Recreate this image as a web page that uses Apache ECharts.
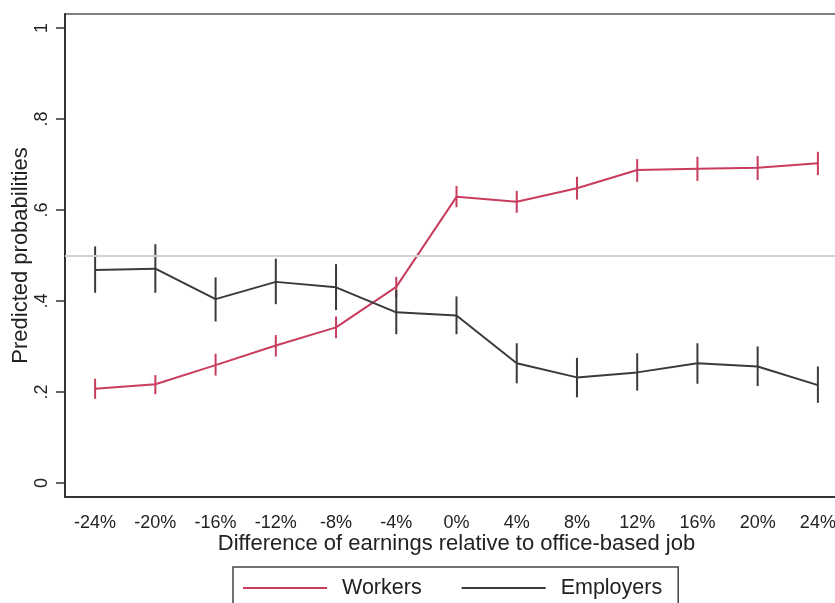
<!DOCTYPE html>
<html>
<head>
<meta charset="utf-8">
<script src="https://cdn.jsdelivr.net/npm/echarts@6/dist/echarts.min.js"></script>
<style>
  html, body { margin: 0; padding: 0; background: #fff; }
  #box { width: 835px; height: 603px; }
</style>
</head>
<body>
<div id="box"></div>
<script>
// 数据
var categories = ['-24%', '-20%', '-16%', '-12%', '-8%', '-4%', '0%', '4%', '8%', '12%', '16%', '20%', '24%'];
var workers   = [0.207, 0.217, 0.259, 0.302, 0.342, 0.431, 0.629, 0.618, 0.648, 0.688, 0.691, 0.693, 0.703];
var workersLo = [0.185, 0.195, 0.236, 0.278, 0.318, 0.409, 0.606, 0.594, 0.623, 0.662, 0.664, 0.666, 0.677];
var workersHi = [0.229, 0.237, 0.284, 0.325, 0.366, 0.453, 0.653, 0.642, 0.673, 0.712, 0.717, 0.719, 0.728];
var employers   = [0.468, 0.471, 0.404, 0.442, 0.430, 0.375, 0.368, 0.263, 0.232, 0.243, 0.263, 0.256, 0.215];
var employersLo = [0.418, 0.418, 0.355, 0.393, 0.380, 0.327, 0.327, 0.219, 0.188, 0.203, 0.218, 0.213, 0.176];
var employersHi = [0.520, 0.525, 0.452, 0.493, 0.481, 0.424, 0.410, 0.307, 0.275, 0.285, 0.307, 0.300, 0.256];
var yTicks = [0, 0.2, 0.4, 0.6, 0.8, 1];

var RED = '#c93c5d';
var DARK = '#3a3a3a';
var FONT = 'Liberation Sans, Arial, sans-serif';

function ciData(lo, hi) {
  return lo.map(function (v, i) { return [i, v, hi[i]]; });
}

// 误差线
function spike(color) {
  return function (params, api) {
    var a = api.coord([api.value(0), api.value(1)]);
    var b = api.coord([api.value(0), api.value(2)]);
    return {
      type: 'line',
      shape: { x1: a[0], y1: a[1], x2: b[0], y2: b[1] },
      style: { stroke: color, lineWidth: 2 }
    };
  };
}

var myChart = echarts.init(document.getElementById('box'));

var option = {
  animation: false,
  textStyle: { fontFamily: FONT },
  grid: {
    left: 65, top: 14, width: 783, height: 483,
    outerBoundsMode: 'none',
    containLabel: false,
    show: true, borderColor: '#555', borderWidth: 1.5
  },
  legend: {
    data: ['Workers', 'Employers'],
    left: 233, top: 567,
    orient: 'horizontal',
    icon: 'rect',
    itemWidth: 84, itemHeight: 2,
    itemGap: 40,
    padding: [10, 16, 30, 10],
    borderColor: '#444', borderWidth: 1.5,
    textStyle: { fontSize: 21.5, color: '#222', fontFamily: FONT, padding: [0, 0, 0, 10] }
  },
  xAxis: {
    type: 'category',
    data: categories,
    boundaryGap: true,
    name: 'Difference of earnings relative to office-based job',
    nameLocation: 'middle',
    nameGap: 36,
    nameMoveOverlap: false,
    nameTextStyle: { fontSize: 22, color: '#222', fontFamily: FONT },
    axisLine: { onZero: false, lineStyle: { color: '#333', width: 2 } },
    axisTick: { alignWithLabel: true, length: 10, lineStyle: { color: '#333', width: 1.5 } },
    axisLabel: { fontSize: 18, color: '#222', margin: 17, interval: 0, fontFamily: FONT },
    splitLine: { show: false }
  },
  yAxis: {
    type: 'value',
    min: -0.031, max: 1.031,
    name: 'Predicted probabilities',
    nameLocation: 'middle',
    nameGap: 33,
    nameMoveOverlap: false,
    nameTextStyle: { fontSize: 22, color: '#222', fontFamily: FONT },
    axisLine: { show: true, onZero: false, lineStyle: { color: '#333', width: 2 } },
    axisTick: { show: true, length: 9, customValues: yTicks, lineStyle: { color: '#333', width: 1.5 } },
    axisLabel: {
      rotate: 90, fontSize: 18, color: '#222', margin: 14, fontFamily: FONT,
      customValues: yTicks,
      formatter: function (v) {
        if (v === 0) return '0';
        if (v === 1) return '1';
        return String(Math.round(v * 10) / 10).replace(/^0/, '');
      }
    },
    splitLine: { show: false }
  },
  series: [
    {
      name: 'ref',
      type: 'line',
      data: [],
      markLine: {
        silent: true,
        symbol: 'none',
        label: { show: false },
        lineStyle: { color: '#d2d2d2', width: 2, type: 'solid' },
        data: [{ yAxis: 0.5 }]
      }
    },
    {
      name: 'Workers CI',
      type: 'custom',
      renderItem: spike(RED),
      data: ciData(workersLo, workersHi)
    },
    {
      name: 'Employers CI',
      type: 'custom',
      renderItem: spike(DARK),
      data: ciData(employersLo, employersHi)
    },
    {
      name: 'Workers',
      type: 'line',
      data: workers,
      symbol: 'none',
      color: RED,
      lineStyle: { color: RED, width: 2 }
    },
    {
      name: 'Employers',
      type: 'line',
      data: employers,
      symbol: 'none',
      color: DARK,
      lineStyle: { color: DARK, width: 2 }
    }
  ]
};

myChart.setOption(option);
</script>
</body>
</html>
